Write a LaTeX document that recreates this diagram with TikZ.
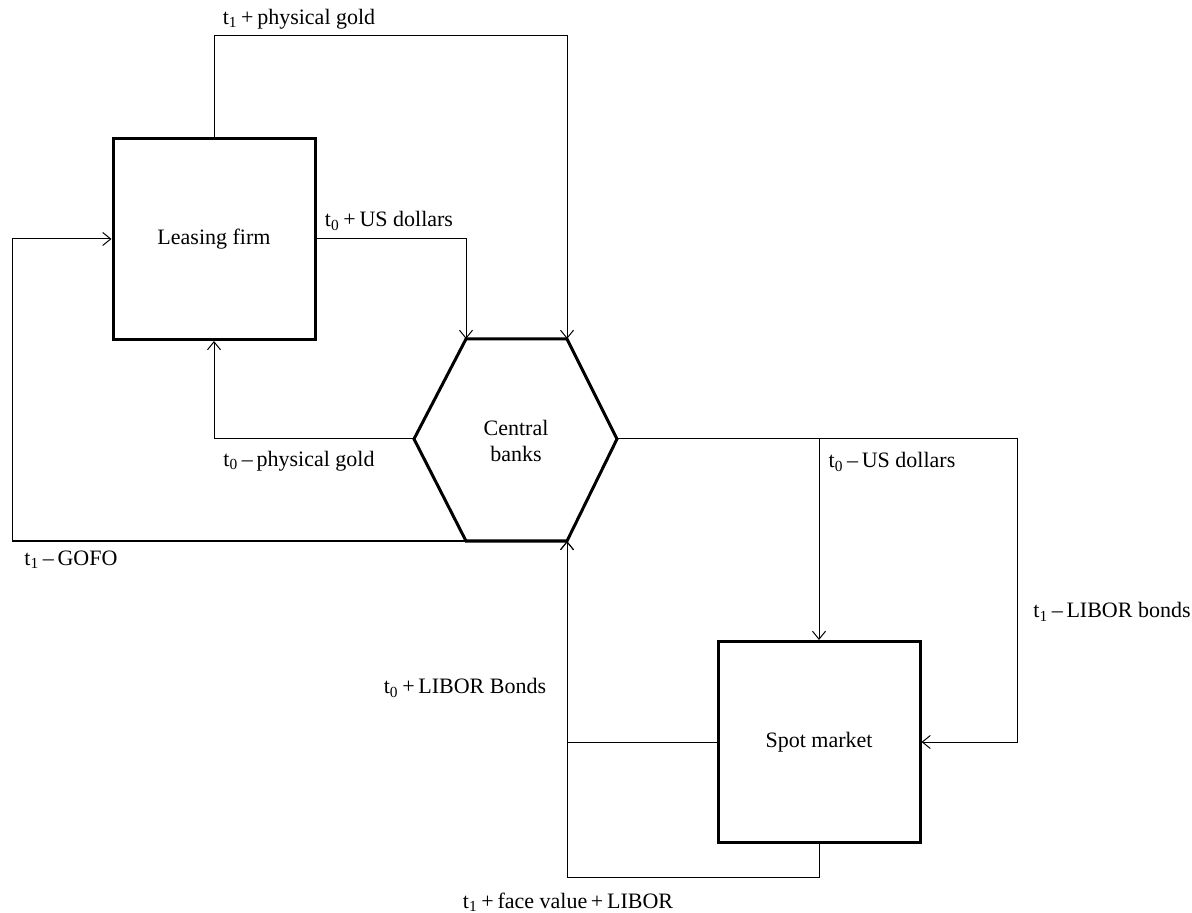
\documentclass[tikz,border=0pt]{standalone}
\usepackage{fontspec}
\setmainfont{Liberation Serif}
\usepackage{tikz}
\usetikzlibrary{arrows.meta,positioning,calc}
\tikzset{
glbox/.style={rectangle,draw,line width=1.5pt,align=center,minimum width=101pt,minimum height=100.5pt,inner sep=2pt},
glhex/.style={line width=1.5pt,line join=miter},
glarr/.style={-{Straight Barb[length=4pt,width=6.5pt]},line width=0.5pt},
gllabel/.style={inner sep=1pt}
}
\newcommand{\tzero}{t\textsubscript{0}}
\newcommand{\tone}{t\textsubscript{1}}
\newcommand{\gplus}{\,+\,}
\newcommand{\gminus}{\,--\,}
\begin{document}
\begin{tikzpicture}[
x=0.5pt,
y=-0.5pt,
every node/.style={font=\fontsize{11}{13}\selectfont}
]
\useasboundingbox (0,0) rectangle (1192,913);
\node[glbox] (lease) at (214,239) {Leasing firm};
\node[glbox] (spot) at (819,742) {Spot market};
\coordinate (cbL) at (414,439);
\coordinate (cbTL) at (466,339);
\coordinate (cbTR) at (567,339);
\coordinate (cbR) at (617,439);
\coordinate (cbBR) at (567,541);
\coordinate (cbBL) at (466,541);
\node[align=center] (cb) at (516,441) {Central\\banks};
\draw[glhex] (cbL)--(cbTL)--(cbTR)--(cbR)--(cbBR)--(cbBL)--cycle;
\node[gllabel] (lgold1) at (299,19) {\tone\gplus physical gold};
\node[gllabel] (lusd0) at (389,221) {\tzero\gplus US dollars};
\node[gllabel] (lgold0) at (299,461) {\tzero\gminus physical gold};
\node[gllabel] (lgofo) at (71,560) {\tone\gminus GOFO};
\node[gllabel] (lusdspot) at (892,462) {\tzero\gminus US dollars};
\node[gllabel] (lbonds1) at (1112,612) {\tone\gminus LIBOR bonds};
\node[gllabel] (lbonds0) at (465,688) {\tzero\gplus LIBOR Bonds};
\node[gllabel] (lface) at (568,902) {\tone\gplus face value\gplus LIBOR};
\draw[glarr] (lease.north)--++(0,-101)-|(cbTR);
\draw[glarr] (lease.east)-|(cbTL);
\draw[glarr] (cbL)-|(lease.south);
\draw[glarr] (cbBL)--++(-454,0)|-(lease.west);
\draw[glarr] (cbR)-|(spot.north);
\draw[glarr] (cbR)--++(400,0)|-(spot.east);
\draw[glarr] (spot.west)-|(cbBR);
\draw[glarr] (spot.south)--++(0,33)-|(cbBR);
\end{tikzpicture}
\end{document}
